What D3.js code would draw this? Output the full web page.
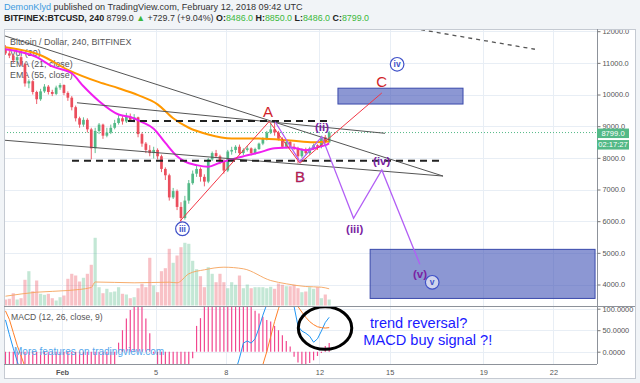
<!DOCTYPE html>
<html>
<head>
<meta charset="utf-8">
<script src="https://cdn.jsdelivr.net/npm/d3@7"></script>
<style>
  body { margin: 0; background: #f1f4f7; }
  svg { display: block; font-family: "Liberation Sans", Arial, sans-serif; }
</style>
</head>
<body>
<svg id="chart" width="640" height="383"></svg>
<script>
/* global d3 */
// BITFINEX:BTCUSD, 4h candles, first one opens 2018-01-29 12:00 UTC

var candleStart = Date.UTC(2018, 0, 29, 12);
var H4 = 4 * 3600e3;

var opens = [11450,11300,11230,11080,11180,10950,10350,10420,10080,9850,
  10100,10250,10080,10020,10220,10300,10050,9900,9600,9250,
  9050,9200,8900,8300,8850,9050,8700,8800,8950,9100,
  9250,9150,9300,9200,9280,8750,8450,8250,8150,8250,
  8050,7650,7450,6750,6950,6450,6100,6650,7200,7500,
  7650,7400,7250,7950,8150,8050,7900,7600,8200,8250,
  8350,8150,8250,8300,8150,8280,8450,8600,8800,8900,
  8800,8600,8350,8500,8350,8300,8050,8250,8150,8300,
  8400,8350,8650,8486];
var highs = [11560,11380,11280,11260,11220,11000,10480,10450,10120,10180,
  10330,10300,10150,10280,10360,10320,10100,9950,9650,9300,
  9280,9250,8950,8950,9100,9080,8950,9050,9200,9350,
  9320,9420,9400,9380,9300,8800,8500,8400,8350,8300,
  8100,7700,7500,7050,7000,6600,6800,7300,7600,7750,
  7700,7480,8000,8200,8250,8100,7950,8250,8350,8400,
  8420,8300,8380,8330,8320,8480,8650,8850,9100,9150,
  8850,8650,8550,8550,8450,8350,8300,8320,8350,8450,
  8430,8700,8720,8850];
var lows = [11250,11150,11000,11020,10900,10250,10200,10000,9700,9800,
  10050,10000,9950,9980,10150,9980,9800,9500,9150,8950,
  8980,8800,7950,8150,8750,8600,8650,8750,8900,9050,
  9050,9100,9150,9120,8650,8350,8150,8050,7980,7950,
  7550,7300,6650,6700,6350,5950,6050,6550,7150,7400,
  7250,7100,7200,7900,8000,7800,7500,7550,8100,8150,
  8100,8080,8200,8080,8100,8250,8400,8550,8750,8700,
  8550,8300,8300,8300,8250,7820,8000,8100,8100,8250,
  8250,8300,8450,8486];
var closes = [11300,11230,11080,11180,10950,10350,10420,10080,9850,10100,
  10250,10080,10020,10220,10300,10050,9900,9600,9250,9050,
  9200,8900,8300,8850,9050,8700,8800,8950,9100,9250,
  9150,9300,9200,9280,8750,8450,8250,8150,8250,8050,
  7650,7450,6750,6950,6450,6100,6650,7200,7500,7650,
  7400,7250,7950,8150,8050,7900,7600,8200,8250,8350,
  8150,8250,8300,8150,8280,8450,8600,8800,8900,8800,
  8600,8350,8500,8350,8300,8050,8250,8150,8300,8400,
  8350,8650,8486,8799];
var volumes = [600,670,1230,600,730,2570,3430,1430,2500,1170,
  1070,1170,730,500,830,1000,2670,3170,3000,2400,
  2770,3170,4070,6770,1830,1230,1670,1330,1400,1830,
  1170,1100,730,830,1730,2170,1830,4770,2000,1330,
  3430,3730,5670,4270,5000,5830,6270,6170,4470,3630,
  2930,1830,3830,3170,2330,3170,2330,1730,2330,2070,
  3000,1730,2100,1730,1830,1830,1830,1730,1870,1670,
  2200,2070,1930,1930,2070,1730,1330,1400,1830,1670,
  1830,730,1100,600];

// [candle index, value]
var volMA = [[0,930],[8,1330],[16,1500],[22,1800],[23,2350],[33,2270],[42,2330],[44,2270],
  [47,3170],[51,3570],[56,3830],[61,3670],[68,2500],[72,2170],[77,1900],[81,1830],[83,1670]];
var ema21 = [[0,11430],[8,11180],[12,10890],[17,10670],[20,10260],[24,9790],[29,9370],[32,9290],
  [35,9130],[38,8920],[41,8470],[44,8050],[46,7880],[49,7770],[52,7720],[55,7850],[58,7950],
  [62,8080],[65,8170],[69,8300],[73,8330],[77,8240],[80,8330],[82,8400],[83,8460]];
var ema55 = [[0,11490],[9,11240],[16,10780],[24,10390],[29,10200],[34,9980],[39,9690],[43,9250],
  [47,8950],[52,8740],[58,8615],[65,8610],[73,8550],[79,8490],[83,8515]];

var macdHist = [-30,-38,-45,-55,-65,-90,-100,-110,-120,-110,
  -95,-85,-75,-60,-50,-45,-50,-60,-75,-85,
  -85,-90,-110,-80,-60,-50,-40,-32,-30,21,
  50,77,97,125,130,120,77,43,-5,-40,
  -70,-100,-140,-150,-160,-170,-150,-80,-15,60,
  78,115,140,160,175,185,190,200,205,200,
  190,175,160,110,95,89,81,74,70,60,
  50,38,25,12,-12,-25,-30,-30,-26,-20,
  -10,-3,13,20];
var macdLine = [74,40,8,-22,-50,-110,-160,-220,-280,-310,
  -320,-330,-335,-325,-310,-305,-310,-330,-370,-410,
  -430,-460,-520,-500,-460,-450,-430,-410,-380,-350,
  -320,-290,-265,-250,-270,-300,-330,-350,-360,-380,
  -420,-460,-540,-580,-630,-680,-670,-620,-560,-500,
  -450,-410,-340,-280,-230,-200,-180,-130,-80,-45,
  -15,20,25,20,30,55,85,110,140,165,
  180,175,160,135,105,60,48,43,36,22,
  30,48,68,80];
var signalLine = [95,75,45,15,-10,-35,-60,-90,-125,-160,
  -190,-215,-240,-255,-265,-275,-280,-290,-305,-325,
  -345,-370,-400,-420,-430,-435,-435,-430,-420,-410,
  -395,-375,-355,-345,-335,-330,-330,-335,-340,-350,
  -365,-385,-410,-440,-475,-515,-545,-560,-560,-550,
  -530,-505,-475,-440,-400,-360,-325,-285,-245,-205,
  -170,-135,-105,-80,-60,-45,-30,0,35,70,
  100,125,140,142,130,105,92,80,70,63,
  58,56,55,56];

var priceTicks = [4000,5000,6000,7000,8000,9000,10000,11000,12000];
var macdTicks = [0, 50, 100];
var timeTicks = ['2018-02-01','2018-02-05','2018-02-08','2018-02-12','2018-02-15','2018-02-19','2018-02-22'];
var lastPrice = 8799.0;
var countdown = '02:17:27';

// hand drawn objects, in [time, price]
var trendLines = [
  [['2018-01-29T10:30Z', 11880], ['2018-02-17T06:45Z', 7425]],
  [['2018-02-01T15:20Z', 9740], ['2018-02-14T19:15Z', 8775]],
  [['2018-01-29T09:30Z', 8565], ['2018-02-17T06:45Z', 7425]]
];
var levelLines = [
  [['2018-02-03T19:40Z', 9160], ['2018-02-12T13:00Z', 9160]],
  [['2018-02-01T10:15Z', 7910], ['2018-02-17T06:45Z', 7910]]
];
var farLine = [['2018-02-16T00:00Z', 12090], ['2018-02-21T05:00Z', 11430]];
var abcPath = [['2018-02-06T01:00Z', 6000], ['2018-02-09T20:30Z', 9150],
  ['2018-02-11T04:00Z', 7830], ['2018-02-14T16:00Z', 10050]];
var wavePath = [['2018-02-10T02:30Z', 9140], ['2018-02-11T04:00Z', 7880], ['2018-02-12T02:30Z', 8670],
  ['2018-02-13T11:00Z', 6090], ['2018-02-14T16:00Z', 7615], ['2018-02-16T07:00Z', 4640]];
var targetBoxes = [
  ['2018-02-12T19:00Z', '2018-02-18T03:15Z', 9700, 10200],
  ['2018-02-14T04:00Z', '2018-02-23T18:40Z', 3560, 5110]
];
var abcLabels = [['A', '2018-02-09T19:15Z', 9300], ['B', '2018-02-11T04:05Z', 7245], ['C', '2018-02-14T15:50Z', 10228]];
var waveLabels = [['(ii)', '2018-02-12T02:40Z', 8848], ['(iii)', '2018-02-13T12:10Z', 5626],
  ['(iv)', '2018-02-14T15:50Z', 7774], ['(v)', '2018-02-16T07:10Z', 4190]];
var circleLabels = [['iii', '2018-02-06T03:30Z', 5760], ['iv', '2018-02-15T07:40Z', 10955], ['v', '2018-02-16T19:40Z', 4070]];
// MACD pane notes, in [time, macd value]
var macdRing = {t: '2018-02-12T05:45Z', v: 55, hours: 27.4, dv: 49.5};
var macdNotes = [['trend reversal?', '2018-02-14T03:50Z', 54], ['MACD buy signal ?!', '2018-02-13T21:00Z', 15.5]];

var upColor = '#53b987', downColor = '#eb4d5c';

var P = {left: 4, right: 597, outer: 635, top: 29, split: 306, macdBottom: 364, bottom: 378};

var svg = d3.select('#chart');

var x = d3.scaleUtc()
  .domain([new Date(Date.UTC(2018, 0, 29, 12, 30)), new Date(Date.UTC(2018, 1, 23, 20, 40))])
  .range([P.left, P.right]);
var y = d3.scaleLinear().domain([4000, 12000]).range([284.5, 31.2]);
var yVol = d3.scaleLinear().domain([0, 6800]).range([305.5, 237.5]);
var yMacd = d3.scaleLinear().domain([0, 100]).range([351.7, 308.7]);

function tc(i) { return new Date(candleStart + i * H4 + H4 / 2); }
function T(s) { return new Date(s); }
function px(v) { return Math.round(v) + 0.5; }

var candles = opens.map(function(o, i) {
  return {t: tc(i), o: o, h: highs[i], l: lows[i], c: closes[i], v: volumes[i],
    up: closes[i] >= o};
});

// frame
svg.append('rect').attr('x', P.left + 0.5).attr('y', P.top + 0.5)
  .attr('width', P.outer - P.left).attr('height', P.bottom - P.top)
  .attr('fill', '#fff').attr('stroke', '#c5cad2');

var defs = svg.append('defs');
defs.append('clipPath').attr('id', 'clip-price').append('rect')
  .attr('x', P.left + 1).attr('y', P.top + 1).attr('width', P.right - P.left - 1).attr('height', P.split - P.top - 1);
defs.append('clipPath').attr('id', 'clip-macd').append('rect')
  .attr('x', P.left + 1).attr('y', P.split + 1).attr('width', P.right - P.left - 1).attr('height', P.macdBottom - P.split - 1);
defs.append('clipPath').attr('id', 'clip-paxis').append('rect')
  .attr('x', P.right).attr('y', P.top + 1).attr('width', 40).attr('height', P.split - P.top - 1);
defs.append('clipPath').attr('id', 'clip-maxis').append('rect')
  .attr('x', P.right).attr('y', P.split + 1).attr('width', 40).attr('height', P.macdBottom - P.split - 1);

// grid
var grid = svg.append('g').attr('stroke', '#e8eef5').attr('stroke-width', 1);
timeTicks.forEach(function(d) {
  grid.append('line').attr('x1', px(x(T(d)))).attr('x2', px(x(T(d))))
    .attr('y1', P.top + 1).attr('y2', P.macdBottom);
});
priceTicks.forEach(function(p) {
  grid.append('line').attr('x1', P.left + 1).attr('x2', P.right)
    .attr('y1', px(y(p))).attr('y2', px(y(p)));
});
macdTicks.forEach(function(v) {
  grid.append('line').attr('x1', P.left + 1).attr('x2', P.right)
    .attr('y1', px(yMacd(v))).attr('y2', px(yMacd(v)));
});

// legends (drawn first, candles go over them)
var legend = svg.append('g').attr('font-size', 8.9).attr('fill', '#555');
['Bitcoin / Dollar, 240, BITFINEX', 'Vol (20)', 'EMA (21, close)', 'EMA (55, close)'].forEach(function(s, k) {
  legend.append('text').attr('x', 10).attr('y', 44.5 + k * 11.3).text(s);
});
legend.append('text').attr('x', 11).attr('y', 320).attr('font-size', 8.6).text('MACD (12, 26, close, 9)');

var pricePane = svg.append('g').attr('clip-path', 'url(#clip-price)');
var macdPane = svg.append('g').attr('clip-path', 'url(#clip-macd)');

// volume
pricePane.append('g').selectAll('rect').data(candles).enter().append('rect')
  .attr('x', function(d) { return x(d.t) - 1.6; })
  .attr('width', 3.2)
  .attr('y', function(d) { return yVol(d.v); })
  .attr('height', function(d) { return yVol(0) - yVol(d.v); })
  .attr('fill', function(d) { return d.up ? upColor : downColor; })
  .attr('fill-opacity', 0.35);

pricePane.append('path')
  .datum(volMA)
  .attr('fill', 'none').attr('stroke', '#f5a35c').attr('stroke-width', 1).attr('stroke-opacity', 0.9)
  .attr('d', d3.line().curve(d3.curveMonotoneX)
    .x(function(d) { return x(tc(d[0])); })
    .y(function(d) { return yVol(d[1]); }));

// target boxes
pricePane.selectAll('.box').data(targetBoxes).enter().append('rect')
  .attr('class', 'box')
  .attr('x', function(d) { return x(T(d[0])); })
  .attr('width', function(d) { return x(T(d[1])) - x(T(d[0])); })
  .attr('y', function(d) { return y(d[3]); })
  .attr('height', function(d) { return y(d[2]) - y(d[3]); })
  .attr('fill', '#3f51b5').attr('fill-opacity', 0.6)
  .attr('stroke', '#3949ab').attr('stroke-width', 1);

// last price line
pricePane.append('line')
  .attr('x1', P.left).attr('x2', P.right)
  .attr('y1', y(lastPrice)).attr('y2', y(lastPrice))
  .attr('stroke', upColor).attr('stroke-width', 1).attr('stroke-dasharray', '1,2');

// candles
var cg = pricePane.append('g').selectAll('g').data(candles).enter().append('g')
  .attr('fill', function(d) { return d.up ? upColor : downColor; })
  .attr('stroke', function(d) { return d.up ? upColor : downColor; });
cg.append('line')
  .attr('x1', function(d) { return x(d.t); }).attr('x2', function(d) { return x(d.t); })
  .attr('y1', function(d) { return y(d.h); }).attr('y2', function(d) { return y(d.l); })
  .attr('stroke-width', 0.9);
cg.append('rect')
  .attr('stroke', 'none')
  .attr('x', function(d) { return x(d.t) - 1.35; })
  .attr('width', 2.7)
  .attr('y', function(d) { return y(Math.max(d.o, d.c)); })
  .attr('height', function(d) { return Math.max(1, Math.abs(y(d.o) - y(d.c))); });

// moving averages
var emaLine = d3.line().curve(d3.curveMonotoneX)
  .x(function(d) { return x(tc(d[0])); })
  .y(function(d) { return y(d[1]); });
pricePane.append('path').datum(ema55).attr('d', emaLine)
  .attr('fill', 'none').attr('stroke', '#ff9800').attr('stroke-width', 2);
pricePane.append('path').datum(ema21).attr('d', emaLine)
  .attr('fill', 'none').attr('stroke', '#f01ef0').attr('stroke-width', 2);

// drawings
var seg = d3.line()
  .x(function(d) { return x(T(d[0])); })
  .y(function(d) { return y(d[1]); });
trendLines.forEach(function(l) {
  pricePane.append('path').attr('d', seg(l))
    .attr('fill', 'none').attr('stroke', '#555').attr('stroke-width', 1);
});
levelLines.forEach(function(l) {
  pricePane.append('path').attr('d', seg(l))
    .attr('fill', 'none').attr('stroke', '#222').attr('stroke-width', 2).attr('stroke-dasharray', '7,5');
});
pricePane.append('path').attr('d', seg(farLine))
  .attr('fill', 'none').attr('stroke', '#555').attr('stroke-width', 1.3).attr('stroke-dasharray', '4,4');
pricePane.append('path').attr('d', seg(abcPath))
  .attr('fill', 'none').attr('stroke', '#f23645').attr('stroke-width', 1);
pricePane.append('path').attr('d', seg(wavePath))
  .attr('fill', 'none').attr('stroke', '#b25ef5').attr('stroke-width', 1.3);

abcLabels.forEach(function(d) {
  pricePane.append('text')
    .attr('x', x(T(d[1]))).attr('y', y(d[2]))
    .attr('text-anchor', 'middle').attr('font-size', 15)
    .attr('fill', '#d01e2a')
    .attr('stroke', d[0] === 'B' ? '#7b1fa2' : 'none').attr('stroke-width', 0.35)
    .text(d[0]);
});
waveLabels.forEach(function(d) {
  pricePane.append('text')
    .attr('x', x(T(d[1]))).attr('y', y(d[2]))
    .attr('text-anchor', 'middle').attr('font-size', 11.5).attr('font-weight', 'bold')
    .attr('fill', '#7b1fa2')
    .text(d[0]);
});
circleLabels.forEach(function(d) {
  var g = pricePane.append('g').attr('transform', 'translate(' + x(T(d[1])) + ',' + y(d[2]) + ')');
  g.append('circle').attr('r', 6.8).attr('fill', '#fff').attr('fill-opacity', 0.6)
    .attr('stroke', '#3f51c8').attr('stroke-width', 1.2);
  g.append('text').attr('y', 3).attr('text-anchor', 'middle')
    .attr('font-size', 8.5).attr('font-weight', 'bold').attr('fill', '#3f51c8')
    .text(d[0]);
});

// MACD pane
macdPane.append('g').selectAll('line').data(candles).enter().append('line')
  .attr('x1', function(d) { return x(d.t); }).attr('x2', function(d) { return x(d.t); })
  .attr('y1', yMacd(0))
  .attr('y2', function(d, i) { return yMacd(macdHist[i]); })
  .attr('stroke', '#f2478f').attr('stroke-width', 1.2);
var macdPath = d3.line()
  .x(function(d, i) { return x(tc(i)); })
  .y(function(d) { return yMacd(d); });
macdPane.append('path').datum(macdLine).attr('d', macdPath)
  .attr('fill', 'none').attr('stroke', '#2196f3').attr('stroke-width', 1);
macdPane.append('path').datum(signalLine).attr('d', macdPath)
  .attr('fill', 'none').attr('stroke', '#ff7f27').attr('stroke-width', 1);

var rc = T(macdRing.t);
macdPane.append('ellipse')
  .attr('cx', x(rc)).attr('cy', yMacd(macdRing.v))
  .attr('rx', x(new Date(+rc + macdRing.hours * 3600e3)) - x(rc))
  .attr('ry', yMacd(macdRing.v - macdRing.dv) - yMacd(macdRing.v))
  .attr('fill', 'none').attr('stroke', '#000').attr('stroke-width', 3);

macdNotes.forEach(function(d) {
  macdPane.append('text')
    .attr('x', x(T(d[1]))).attr('y', yMacd(d[2]))
    .attr('font-size', 14.6).attr('fill', '#1a1aff')
    .text(d[0]);
});

svg.append('text').attr('x', 14).attr('y', 355)
  .attr('font-size', 10).attr('fill', '#55a6ec')
  .text('More features on tradingview.com');

// separators
var sep = svg.append('g').attr('stroke', '#8d929a').attr('stroke-width', 1);
sep.append('line').attr('x1', px(P.right)).attr('x2', px(P.right)).attr('y1', P.top).attr('y2', P.macdBottom);
sep.append('line').attr('x1', P.left).attr('x2', P.outer).attr('y1', px(P.split)).attr('y2', px(P.split));
sep.append('line').attr('x1', P.left).attr('x2', P.right).attr('y1', px(P.macdBottom)).attr('y2', px(P.macdBottom));

// axes
function styleAxis(g) {
  g.attr('font-family', null).attr('font-size', 7.4);
  g.select('.domain').remove();
  g.selectAll('line').attr('stroke', '#777');
  g.selectAll('text').attr('fill', '#555');
}
svg.append('g').attr('clip-path', 'url(#clip-paxis)').append('g')
  .attr('transform', 'translate(' + px(P.right) + ',0)')
  .call(d3.axisRight(y).tickValues(priceTicks).tickSize(3).tickPadding(2).tickFormat(d3.format('.1f')))
  .call(styleAxis);
svg.append('g').attr('clip-path', 'url(#clip-maxis)').append('g')
  .attr('transform', 'translate(' + px(P.right) + ',0)')
  .call(d3.axisRight(yMacd).tickValues(macdTicks).tickSize(3).tickPadding(2).tickFormat(d3.format('.4f')))
  .call(styleAxis);
svg.append('g')
  .attr('transform', 'translate(0,' + P.macdBottom + ')')
  .call(d3.axisBottom(x).tickValues(timeTicks.map(T)).tickSize(0).tickPadding(5.5)
    .tickFormat(function(d) { return d.getUTCDate() === 1 ? 'Feb' : d.getUTCDate(); }))
  .call(styleAxis)
  .selectAll('text')
  .attr('font-weight', function(d) { return d.getUTCDate() === 1 ? 'bold' : null; });

// last price + countdown tags
var tag = svg.append('g');
[[lastPrice.toFixed(1), y(lastPrice) + 0.5], [countdown, y(lastPrice) + 12]].forEach(function(d) {
  tag.append('rect').attr('x', P.right).attr('y', d[1] - 4.5).attr('width', 32).attr('height', 9.5)
    .attr('fill', upColor);
  tag.append('text').attr('x', P.right + 16).attr('y', d[1] + 2.7)
    .attr('text-anchor', 'middle').attr('font-size', 7.6).attr('fill', '#fff').text(d[0]);
});

// header
var head = svg.append('g').attr('font-size', 9.1).attr('fill', '#333');
var h1 = head.append('text').attr('x', 4).attr('y', 9.5);
h1.append('tspan').attr('fill', '#3d9be0').text('DemonKlyd');
h1.append('tspan').text(' published on TradingView.com, February 12, 2018 09:42 UTC');
var green = '#3cb83c';
var h2 = head.append('text').attr('x', 4).attr('y', 21.3).attr('font-size', 8.9);
h2.append('tspan').attr('font-weight', 'bold').attr('fill', '#222').text('BITFINEX:BTCUSD, 240');
h2.append('tspan').text('  8799.0 ');
h2.append('tspan').attr('fill', green).text('\u25B2');
h2.append('tspan').text(' +729.7 (+9.04%)  ');
[['O:', '8486.0'], ['H:', '8850.0'], ['L:', '8486.0'], ['C:', '8799.0']].forEach(function(d, k) {
  h2.append('tspan').attr('font-weight', 'bold').attr('fill', '#222').text((k ? ' ' : '') + d[0]);
  h2.append('tspan').attr('fill', green).text(d[1]);
});
</script>
</body>
</html>
